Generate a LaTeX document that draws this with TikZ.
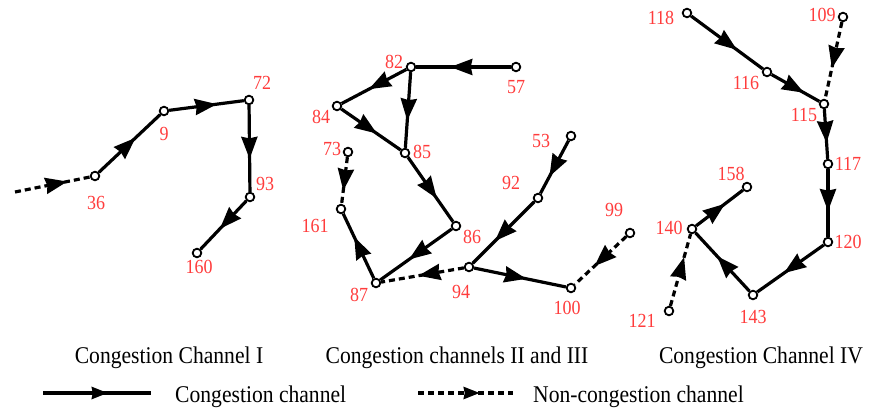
\documentclass[tikz,border=0pt]{standalone}
\usepackage{fontspec}
\setmainfont[FakeStretch=0.9]{Liberation Serif}
\usetikzlibrary{arrows.meta,decorations.markings}
\definecolor{lblred}{RGB}{255,60,60}
\tikzset{
  nd/.style={circle,draw=black,fill=white,line width=1.8pt,inner sep=0pt,minimum size=8.6pt},
  lbl/.style={text=lblred,font=\fontsize{20}{21}\selectfont,inner sep=0pt},
  captxt/.style={font=\fontsize{24}{26}\selectfont,inner sep=0pt,anchor=base},
  legtxt/.style={font=\fontsize{24}{26}\selectfont,inner sep=0pt,anchor=base west},
  cong/.style={line width=3.2pt,postaction={decorate},
    decoration={markings,mark=at position #1 with {\arrow[solid]{Stealth[length=22pt,width=16pt,inset=1.5pt]}}}},
  cong/.default=0.57,
  ncong/.style={line width=3.2pt,dash pattern=on 6pt off 4pt,postaction={decorate},
    decoration={markings,mark=at position #1 with {\arrow[solid]{Stealth[length=22pt,width=16pt,inset=1.5pt]}}}},
  ncong/.default=0.57,
  legcong/.style={line width=3.2pt,postaction={decorate},
    decoration={markings,mark=at position #1 with {\arrow[solid]{Stealth[length=16pt,width=12pt,inset=1pt]}}}},
  legncong/.style={line width=3.2pt,dash pattern=on 6pt off 4pt,postaction={decorate},
    decoration={markings,mark=at position #1 with {\arrow[solid]{Stealth[length=16pt,width=12pt,inset=1pt]}}}},
}
\begin{document}
\begin{tikzpicture}[x=1pt,y=-1pt]
\useasboundingbox (0,0) rectangle (871,411);
% ---------- Channel I ----------
\coordinate (s0) at (15,192);
\node[nd] (n36) at (95,176) {};
\node[nd] (n9) at (164,111) {};
\node[nd] (n72) at (249,100) {};
\node[nd] (n93) at (250,197) {};
\node[nd] (n160) at (197,253) {};
\draw[ncong=0.7] (s0) -- (n36);
\draw[cong=0.6] (n36) -- (n9);
\draw[cong=0.64] (n9) -- (n72);
\draw[cong=0.62] (n72) -- (n93);
\draw[cong=0.58] (n93) -- (n160);
\node[lbl] (l36) at (96,203) {36};
\node[lbl] (l9) at (164,134) {9};
\node[lbl] (l72) at (262,83) {72};
\node[lbl] (l93) at (265,184) {93};
\node[lbl] (l160) at (199,267) {160};
% ---------- Channels II and III ----------
\node[nd] (n82) at (411,67) {};
\node[nd] (n57) at (516,67) {};
\node[nd] (n84) at (337,106) {};
\node[nd] (n85) at (405,153) {};
\node[nd] (n73) at (348,152) {};
\node[nd] (n161) at (341,209) {};
\node[nd] (n86) at (456,226) {};
\node[nd] (n87) at (376,283) {};
\node[nd] (n94) at (469,267) {};
\node[nd] (n100) at (571,288) {};
\node[nd] (n53) at (571,136) {};
\node[nd] (n92) at (538,198) {};
\node[nd] (n99) at (630,233) {};
\draw[cong=0.64] (n57) -- (n82);
\draw[cong=0.58] (n82) -- (n84);
\draw[cong=0.64] (n82) -- (n85);
\draw[cong=0.6] (n84) -- (n85);
\draw[cong=0.64] (n85) -- (n86);
\draw[cong=0.6] (n86) -- (n87);
\draw[cong=0.64] (n87) -- (n161);
\draw[ncong=0.72] (n73) -- (n161);
\draw[ncong=0.55] (n94) -- (n87);
\draw[cong=0.68] (n53) -- (n92);
\draw[cong=0.64] (n92) -- (n94);
\draw[cong=0.57] (n94) -- (n100);
\draw[ncong=0.62] (n99) -- (n100);
\node[lbl] (l82) at (394,62) {82};
\node[lbl] (l57) at (516,87) {57};
\node[lbl] (l84) at (321,117) {84};
\node[lbl] (l85) at (422,152) {85};
\node[lbl] (l73) at (332,149) {73};
\node[lbl] (l161) at (315,226) {161};
\node[lbl] (l86) at (472,237) {86};
\node[lbl] (l87) at (359,295) {87};
\node[lbl] (l94) at (461,292) {94};
\node[lbl] (l100) at (567,308) {100};
\node[lbl] (l53) at (541,141) {53};
\node[lbl] (l92) at (511,183) {92};
\node[lbl] (l99) at (614,210) {99};
% ---------- Channel IV ----------
\node[nd] (n118) at (687,13) {};
\node[nd] (n109) at (843,17) {};
\node[nd] (n116) at (767,72) {};
\node[nd] (n115) at (824,104) {};
\node[nd] (n117) at (828,164) {};
\node[nd] (n120) at (828,242) {};
\node[nd] (n143) at (753,295) {};
\node[nd] (n140) at (692,229) {};
\node[nd] (n158) at (747,187) {};
\node[nd] (n121) at (669,311) {};
\draw[cong=0.64] (n118) -- (n116);
\draw[cong=0.68] (n116) -- (n115);
\draw[ncong=0.6] (n109) -- (n115);
\draw[cong=0.68] (n115) -- (n117);
\draw[cong=0.62] (n117) -- (n120);
\draw[cong=0.6] (n120) -- (n143);
\draw[cong=0.6] (n143) -- (n140);
\draw[cong=0.62] (n140) -- (n158);
\draw[ncong=0.68] (n121) -- (n140);
\node[lbl] (l118) at (661,18) {118};
\node[lbl] (l109) at (822,15) {109};
\node[lbl] (l116) at (746,83) {116};
\node[lbl] (l115) at (804,115) {115};
\node[lbl] (l117) at (848,164) {117};
\node[lbl] (l120) at (848,242) {120};
\node[lbl] (l143) at (753,317) {143};
\node[lbl] (l140) at (669,228) {140};
\node[lbl] (l158) at (731,174) {158};
\node[lbl] (l121) at (642,321) {121};
% ---------- captions ----------
\node[captxt] (c1) at (169,364) {Congestion Channel I};
\node[captxt] (c2) at (457,364) {Congestion channels II and III};
\node[captxt] (c3) at (761,364) {Congestion Channel IV};
% ---------- legend ----------
\coordinate (lg1a) at (43,393);
\coordinate (lg1b) at (151,393);
\draw[legcong=0.6] (lg1a) -- (lg1b);
\node[legtxt] (lt1) at (175,403) {Congestion channel};
\coordinate (lg2a) at (418,393);
\coordinate (lg2b) at (513,393);
\draw[legncong=0.65] (lg2a) -- (lg2b);
\node[legtxt] (lt2) at (533,403) {Non-congestion channel};
\end{tikzpicture}
\end{document}
